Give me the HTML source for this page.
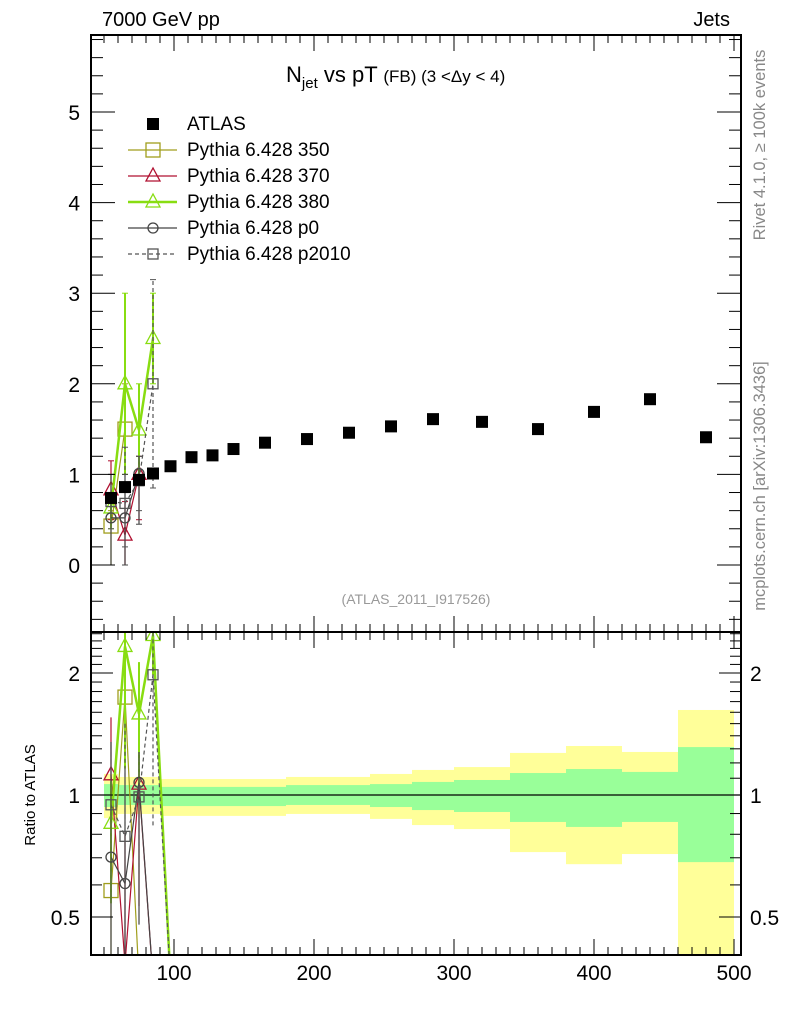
<!DOCTYPE html>
<html><head><meta charset="utf-8"><style>
html,body{margin:0;padding:0;background:#fff;width:786px;height:1024px;overflow:hidden;}
svg{display:block;font-family:"Liberation Sans",sans-serif;}
</style></head><body>
<svg id="c" width="786" height="1024" xmlns="http://www.w3.org/2000/svg">
<text x="102" y="26" font-size="20">7000 GeV pp</text>
<text x="730" y="26" font-size="20" text-anchor="end">Jets</text>
<text x="286" y="82" font-size="22">N<tspan font-size="15" dy="6">jet</tspan><tspan dy="-6"> vs pT </tspan><tspan font-size="17">(FB) (3 &lt;Δy &lt; 4)</tspan></text>
<text x="416" y="604" font-size="14" fill="#999" text-anchor="middle">(ATLAS_2011_I917526)</text>
<text x="0" y="0" font-size="15" text-anchor="middle" transform="translate(35,795) rotate(-90)">Ratio to ATLAS</text>
<text x="0" y="0" font-size="16.5" fill="#888" text-anchor="middle" transform="translate(765,145) rotate(-90)">Rivet 4.1.0, ≥ 100k events</text>
<text x="0" y="0" font-size="16.5" fill="#888" text-anchor="middle" transform="translate(765,486) rotate(-90)">mcplots.cern.ch [arXiv:1306.3436]</text>
</svg>
<script>
const binEdges=[50,60,70,80,90,105,120,135,150,180,210,240,270,300,340,380,420,460,500];
const atlasX=[55,65,75,85,97.5,112.5,127.5,142.5,165,195,225,255,285,320,360,400,440,480];
const atlasY=[0.74,0.86,0.94,1.01,1.09,1.19,1.21,1.28,1.35,1.39,1.46,1.53,1.61,1.58,1.50,1.69,1.83,1.41];
const yelUp=[1.127,1.108,1.108,1.108,1.095,1.095,1.095,1.095,1.095,1.108,1.108,1.127,1.153,1.172,1.27,1.321,1.277,1.621];
const grnUp=[1.064,1.058,1.058,1.058,1.047,1.047,1.047,1.047,1.047,1.058,1.058,1.064,1.077,1.089,1.133,1.159,1.14,1.313];
const grnLo=[0.934,0.945,0.945,0.945,0.939,0.939,0.939,0.939,0.939,0.945,0.945,0.934,0.918,0.908,0.858,0.834,0.858,0.683];
const yelLo=[0.877,0.898,0.898,0.898,0.888,0.888,0.888,0.888,0.888,0.898,0.898,0.873,0.843,0.824,0.723,0.675,0.715,0.35];
const mcX=[55,65,75,85,97.5];
const s350=[0.43,1.50,null,null];
const s350Lo=[0.0,1.0,null,null];
const s350Hi=[0.6,2.0,null,null];
const s370=[0.83,0.33,1.0,null];
const s370Lo=[0.5,0.0,0.5,null];
const s370Hi=[1.15,0.7,1.2,null];
const s380=[0.63,2.0,1.49,2.5];
const s380Lo=[0.4,1.0,1.0,2.0];
const s380Hi=[0.8,3.0,2.0,3.0];
const sp0=[0.52,0.52,1.01,null];
const sp0Lo=[0.0,0.0,0.45,null];
const sp0Hi=[1.0,1.0,1.2,null];
const sp2010=[0.70,0.68,0.93,2.0];
const sp2010Lo=[0.4,0.2,0.6,0.85];
const sp2010Hi=[1.0,1.3,1.2,3.15];
const xTicks=[100,200,300,400,500];
const mainYTicks=[0,1,2,3,4,5];
const ratioTicks=[0.5,1,2];

const svg=document.getElementById('c');
const NS='http://www.w3.org/2000/svg';
function mk(tag,attrs,parent){const e=document.createElementNS(NS,tag);for(const k in attrs)e.setAttribute(k,attrs[k]);(parent||svg).appendChild(e);return e;}
const L=91,R=741,MT=35,MB=632,RT=632,RB=955;
const X=v=>34+(v)*1.4;
const Y=v=>565-v*90.6;
const RY=v=>795-122*Math.log2(v);
const RMIN=0.35;

const defs=mk('defs',{});
const cp1=mk('clipPath',{id:'cm'},defs);mk('rect',{x:L,y:MT,width:R-L,height:MB-MT},cp1);
const cp2=mk('clipPath',{id:'cr'},defs);mk('rect',{x:L,y:RT,width:R-L,height:RB-RT},cp2);

const gR=mk('g',{'clip-path':'url(#cr)'});


for(let i=0;i<binEdges.length-1;i++){
  const x0=X(binEdges[i]),x1=X(binEdges[i+1]);
  const lo=Math.max(yelLo[i],RMIN);
  const y=mk('rect',{x:x0,y:RY(yelUp[i]),width:x1-x0,height:RY(lo)-RY(yelUp[i]),fill:'#ffff99'},gR);
  
  
  const g=mk('rect',{x:x0,y:RY(grnUp[i]),width:x1-x0,height:RY(grnLo[i])-RY(grnUp[i]),fill:'#99ff99'},gR);
  
  
}
mk('line',{x1:L,x2:R,y1:RY(1),y2:RY(1),stroke:'#000','stroke-width':1.2},gR);

const series=[
 {v:s350,lo:s350Lo,hi:s350Hi,c:'#a09e1c',m:'sq',w:1.2,d:'',name:'pythia-350'},
 {v:s370,lo:s370Lo,hi:s370Hi,c:'#b01030',m:'tri',w:1.2,d:'',name:'pythia-370'},
 {v:s380,lo:s380Lo,hi:s380Hi,c:'#88dd11',m:'tri',w:2.5,d:'',name:'pythia-380'},
 {v:sp0,lo:sp0Lo,hi:sp0Hi,c:'#444',m:'circ',w:1.2,d:'',name:'pythia-p0'},
 {v:sp2010,lo:sp2010Lo,hi:sp2010Hi,c:'#555',m:'sqs',w:1.2,d:'4,3',name:'pythia-p2010'}
];
function marker(type,x,y,c,parent){
  let e;
  if(type==='sq')e=mk('rect',{x:x-7,y:y-7,width:14,height:14,fill:'none',stroke:c,'stroke-width':1.3},parent);
  else if(type==='sqs')e=mk('rect',{x:x-5,y:y-5,width:10,height:10,fill:'none',stroke:c,'stroke-width':1.3},parent);
  else if(type==='tri')e=mk('polygon',{points:`${x},${y-8} ${x-7},${y+5} ${x+7},${y+5}`,fill:'none',stroke:c,'stroke-width':1.3},parent);
  else if(type==='circ')e=mk('circle',{cx:x,cy:y,r:5,fill:'none',stroke:c,'stroke-width':1.3},parent);
  else e=mk('rect',{x:x-6,y:y-6,width:12,height:12,fill:'#000'},parent);
  return e;
}

const gM=mk('g',{'clip-path':'url(#cm)'});


series.forEach(s=>{
  const g=mk('g',{},gM);
  
  
  let pts=[];
  s.v.forEach((v,i)=>{if(v!==null){pts.push(X(mcX[i])+','+Y(v));
    mk('line',{x1:X(mcX[i]),x2:X(mcX[i]),y1:Y(s.lo[i]),y2:Y(s.hi[i]),stroke:s.c,'stroke-width':s.w>2?2:1.2,'stroke-dasharray':s.d},g);
    mk('line',{x1:X(mcX[i])-3,x2:X(mcX[i])+3,y1:Y(s.hi[i]),y2:Y(s.hi[i]),stroke:s.c,'stroke-width':1},g);
    mk('line',{x1:X(mcX[i])-3,x2:X(mcX[i])+3,y1:Y(s.lo[i]),y2:Y(s.lo[i]),stroke:s.c,'stroke-width':1},g);
  }});
  mk('polyline',{points:pts.join(' '),fill:'none',stroke:s.c,'stroke-width':s.w,'stroke-dasharray':s.d},g);
  s.v.forEach((v,i)=>{if(v!==null){const m=marker(s.m,X(mcX[i]),Y(v),s.c,g);
    
    }});
});
atlasX.forEach((x,i)=>{
  const m=marker('atlas',X(x),Y(atlasY[i]),'#000',gM);
  
  
});

series.forEach(s=>{
  const g=mk('g',{'clip-path':'url(#cr)'});
  
  
  let pts=[];let last=-1;
  s.v.forEach((v,i)=>{if(v!==null){last=i;pts.push(X(mcX[i])+','+RY(Math.max(v/atlasY[i],RMIN)));
    mk('line',{x1:X(mcX[i]),x2:X(mcX[i]),y1:RY(Math.max(s.lo[i]/atlasY[i],RMIN)),y2:RY(Math.min(s.hi[i]/atlasY[i],2.6)),stroke:s.c,'stroke-width':s.w>2?2:1.2,'stroke-dasharray':s.d},g);
  }});
  pts.push(X(mcX[last+1])+','+RY(RMIN));
  mk('polyline',{points:pts.join(' '),fill:'none',stroke:s.c,'stroke-width':s.w,'stroke-dasharray':s.d},g);
  s.v.forEach((v,i)=>{if(v!==null){const r=v/atlasY[i];if(r<RMIN)return;const m=marker(s.m,X(mcX[i]),RY(r),s.c,g);
    
    }});
});

const f1=mk('rect',{x:L,y:MT,width:R-L,height:MB-MT,fill:'none',stroke:'#000','stroke-width':2});


const f2=mk('rect',{x:L,y:RT,width:R-L,height:RB-RT,fill:'none',stroke:'#000','stroke-width':2});



const tg=mk('g',{stroke:'#000','stroke-width':1});
for(let v=50;v<=500;v+=10){
  const maj=v%100===0;const x=X(v);const l=maj?16:8;
  [[MT,1],[MB,-1],[RT,1],[RB,-1]].forEach(([y,d])=>mk('line',{x1:x,x2:x,y1:y,y2:y+d*l},tg));
}
xTicks.forEach(v=>{const t=mk('text',{x:X(v),y:980,'font-size':21,'text-anchor':'middle'});t.textContent=v;
  
  });
for(let k=-3;k<=29;k++){const v=k*0.2;const y=Y(v);if(y<MT||y>MB)continue;const maj=k%5===0;const l=maj?24:12;
  mk('line',{x1:L,x2:L+l,y1:y,y2:y},tg);mk('line',{x1:R,x2:R-l,y1:y,y2:y},tg);}
mainYTicks.forEach(v=>{const t=mk('text',{x:80,y:Y(v)+8,'font-size':21,'text-anchor':'end'});t.textContent=v;
  
  });
[0.5,0.6,0.7,0.8,0.9,1,1.1,1.2,1.3,1.4,1.5,1.6,1.7,1.8,1.9,2,2.1,2.2,2.3,2.4,2.5].forEach(v=>{
  const y=RY(v);const maj=ratioTicks.includes(v);const l=maj?22:11;
  mk('line',{x1:L,x2:L+l,y1:y,y2:y},tg);mk('line',{x1:R,x2:R-l,y1:y,y2:y},tg);});
ratioTicks.forEach(v=>{
  const t=mk('text',{x:80,y:RY(v)+8,'font-size':21,'text-anchor':'end'});t.textContent=v;
  
  
  const t2=mk('text',{x:750,y:RY(v)+8,'font-size':21,'text-anchor':'start'});t2.textContent=v;
  
  });

const lg=mk('g',{});


const leg=[{n:'ATLAS',s:null},...series.map((s,i)=>({n:['Pythia 6.428 350','Pythia 6.428 370','Pythia 6.428 380','Pythia 6.428 p0','Pythia 6.428 p2010'][i],s}))];
leg.forEach((e,i)=>{const y=124+i*26;
  const g=mk('g',{},lg);
  
  
  if(!e.s){marker('atlas',153,y,'#000',g);}
  else{mk('line',{x1:128,x2:177,y1:y,y2:y,stroke:e.s.c,'stroke-width':e.s.w,'stroke-dasharray':e.s.d},g);marker(e.s.m,153,y,e.s.c,g);}
  const t=mk('text',{x:187,y:y+6,'font-size':19},g);t.textContent=e.n;});
</script>
</body></html>
